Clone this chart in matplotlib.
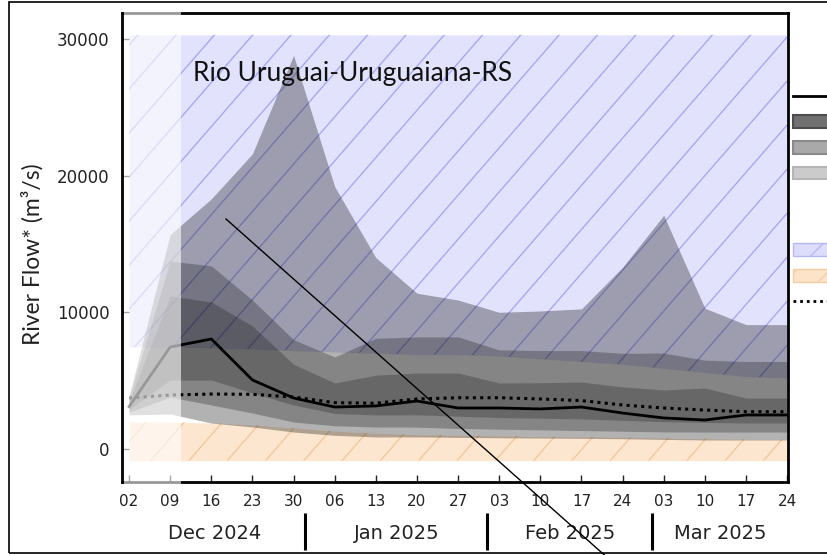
import numpy as np
import matplotlib
matplotlib.use('Agg')
import matplotlib.pyplot as plt
import matplotlib.dates as mdates
import matplotlib.transforms as mtransforms
from matplotlib.lines import Line2D
from matplotlib.patches import Patch, Rectangle

# weekly forecast dates
dates = ['2024-12-02', '2024-12-09', '2024-12-16', '2024-12-23', '2024-12-30',
         '2025-01-06', '2025-01-13', '2025-01-20', '2025-01-27', '2025-02-03',
         '2025-02-10', '2025-02-17', '2025-02-24', '2025-03-03', '2025-03-10',
         '2025-03-17', '2025-03-24']

# forecast median and climatological median (m3/s)
median = [3100, 7460, 8050, 5050, 3730, 3070, 3150, 3510, 3000, 3000, 2930, 3070, 2630, 2270, 2120, 2490, 2490]
clim_median = [3730, 3950, 4020, 4000, 3800, 3390, 3350, 3660, 3750, 3750, 3660, 3540, 3220, 3000, 2850, 2730, 2730]

# forecast spread bands
band_max = [3900, 15700, 18300, 21600, 28800, 19200, 14000, 11400, 10900, 10000, 10100, 10250, 13300, 17100, 10300, 9100, 9100]
band_p90 = [3750, 13750, 13400, 10900, 8000, 6730, 8100, 8200, 8200, 7250, 7200, 7200, 7000, 7020, 6500, 6400, 6400]
band_p75 = [3500, 11200, 10750, 9000, 6200, 4830, 5400, 5560, 5560, 4830, 4850, 4900, 4540, 4320, 4460, 3730, 3730]
band_p25 = [2900, 5050, 5050, 4100, 3220, 2600, 2490, 2500, 2400, 2300, 2250, 2200, 2100, 2000, 1950, 1900, 1900]
band_p10 = [2700, 3800, 3220, 2630, 1975, 1700, 1610, 1600, 1500, 1450, 1400, 1350, 1300, 1250, 1240, 1240, 1240]
band_min = [2500, 2560, 1900, 1610, 1240, 1000, 880, 880, 850, 820, 800, 780, 750, 700, 660, 660, 660]

# climatological thresholds
above_normal = [7460, 7460, 7400, 7300, 7200, 7100, 7000, 6900, 6900, 6800, 6600, 6400, 6200, 5900, 5600, 5300, 5200]
below_normal = [1975, 1975, 1900, 1760, 1540, 1300, 1150, 1050, 1000, 950, 900, 880, 850, 800, 750, 700, 680]
region_top = 30300
region_bottom = -850

months = ['2024-12-01', '2025-01-01', '2025-02-01', '2025-03-01', '2025-04-01']
month_labels = ['Dec 2024', 'Jan 2025', 'Feb 2025', 'Mar 2025']
past_end = '2024-12-10 21:00'

W, H = 827, 555
x = mdates.datestr2num(dates)

fig = plt.figure(figsize=(W / 100, H / 100), dpi=100)
ax = fig.add_axes([122 / W, 1 - 482 / H, (788 - 122) / W, (482 - 13) / H])


def hatch_lines(poly, color, z):
    # wide diagonal hatching, clipped to the filled region
    path = poly.get_paths()[0]
    for c in np.arange(-400, 1400, 38.3) + 338.4 % 38.3:
        ln = Line2D([c / W, (c - H / 1.15) / W], [1, 0], color=color, lw=1.0,
                    transform=fig.transFigure, zorder=z)
        ln.set_clip_path(path, ax.transData)
        ax.add_artist(ln)


# above / below normal regions
blue = ax.fill_between(x, above_normal, region_top, color='#e2e2fc', lw=0, zorder=1)
hatch_lines(blue, '#a8a8f2', 1.1)
orange = ax.fill_between(x, region_bottom, below_normal, color='#fde6cf', lw=0, zorder=1)
hatch_lines(orange, '#f4c89a', 1.1)

# forecast bands
ax.fill_between(x, band_min, band_max, color='k', alpha=0.30, lw=0, zorder=2)
ax.fill_between(x, band_p10, band_p90, color='k', alpha=0.25, lw=0, zorder=2)
ax.fill_between(x, band_p25, band_p75, color='k', alpha=0.22, lw=0, zorder=2)

ax.plot(x, clim_median, color='k', lw=2.2, ls=(0, (1, 1.4)), zorder=2.2)
ax.plot(x, median, color='k', lw=2.0, zorder=2.3)

xmin = x[0] - 1.2
xmax = x[-1] + 0.15
ax.set_xlim(xmin, xmax)
ax.set_ylim(-2415, 31900)

ax.set_yticks([0, 10000, 20000, 30000])
ax.set_xticks(x)
ax.set_xticklabels([d[-2:] for d in dates])
ax.tick_params(direction='in', length=5, width=1.0, labelsize=11, colors='#222222')
ax.tick_params(axis='y', labelsize=12, pad=9)
ax.tick_params(axis='x', pad=9)
ax.tick_params(top=False, right=False)
for s in ax.spines.values():
    s.set_linewidth(2.0)

# past period shaded out
tr = mtransforms.blended_transform_factory(ax.transData, ax.transAxes)
ax.add_patch(Rectangle((xmin + 0.3, -0.008), mdates.datestr2num(past_end) - xmin - 0.3, 1.016,
                       transform=tr, facecolor='white', alpha=0.6, lw=0,
                       clip_on=False, zorder=3))

# month labels and separators
mnum = mdates.datestr2num(months)
for i, lab in enumerate(month_labels):
    a = max(mnum[i], xmin)
    b = min(mnum[i + 1], xmax)
    ax.text((a + b) / 2, -0.109, lab, transform=tr, ha='center', va='center',
            fontsize=14, color='#222222')
for m in mnum[1:4]:
    ax.plot([m, m], [-0.066, -0.145], transform=tr, color='k', lw=2.2,
            clip_on=False, solid_capstyle='butt')

fig.text(193 / W, 1 - 73 / H, 'Rio Uruguai-Uruguaiana-RS', family='Lato',
         fontsize=19, ha='left', va='center', color='#111111')
fig.text(32 / W, 1 - 254 / H, 'River Flow* (m³/s)', family='Lato', fontsize=16.5,
         rotation=90, ha='center', va='center', color='#222222')

# legend (cut off at the image edge)
handles = [Line2D([], [], color='k', lw=2),
           Patch(facecolor='#707070', edgecolor='#4d4d4d', lw=1.5),
           Patch(facecolor='#a9a9a9', edgecolor='#8a8a8a', lw=1.5),
           Patch(facecolor='#cbcbcb', edgecolor='#b5b5b5', lw=1.5),
           Patch(facecolor='none', edgecolor='none'),
           Patch(facecolor='none', edgecolor='none'),
           Patch(facecolor='#dcdcfb', edgecolor='#b8b8f4', hatch='/', lw=1),
           Patch(facecolor='#fde3c8', edgecolor='#f4cfa6', hatch='/', lw=1),
           Line2D([], [], color='k', lw=2, ls=(0, (1, 1.4)))]
fig.legend(handles, [''] * len(handles), loc='upper left',
           bbox_to_anchor=(793 / W, 1 - 88 / H), frameon=False, borderpad=0,
           borderaxespad=0, handlelength=3, handleheight=0.8, fontsize=12,
           labelspacing=0.455)

# outer frame and annotation stroke
fig.add_artist(Rectangle((9 / W, 1 - 553 / H), 1, 551 / H, fill=False,
                         edgecolor='k', lw=1.2, transform=fig.transFigure))
fig.add_artist(Line2D([226 / W, 610 / W], [1 - 219 / H, 1 - 560 / H], color='k',
                      lw=1.0, transform=fig.transFigure))

fig.savefig('out.png', dpi=100)
